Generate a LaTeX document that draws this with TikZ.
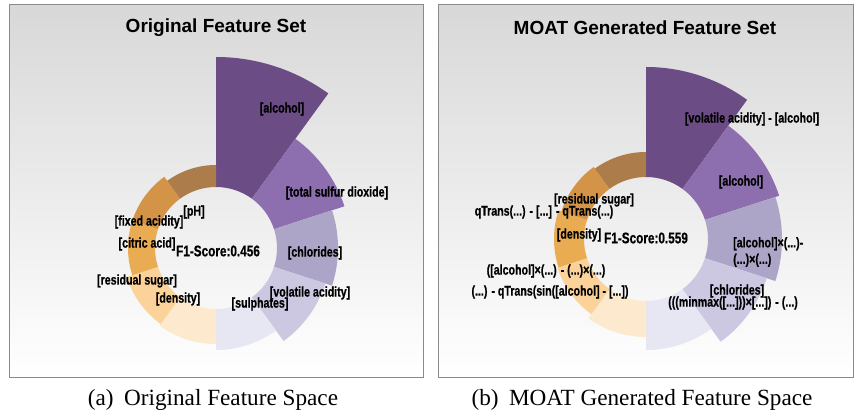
\documentclass[tikz,border=0pt]{standalone}
\usepackage{fontspec}
\setmainfont{Liberation Serif}
\newfontfamily\lblfont[FakeStretch=0.76,FakeBold=0.6]{Liberation Sans}
\newfontfamily\ttlfont{Liberation Sans}
\usetikzlibrary{positioning}

\definecolor{pA}{HTML}{6C4C84}
\definecolor{pB}{HTML}{8D6EAE}
\definecolor{pC}{HTML}{ACA5C8}
\definecolor{pD}{HTML}{CDC8E2}
\definecolor{pE}{HTML}{E6E7F2}
\definecolor{oA}{HTML}{FDEACE}
\definecolor{oB}{HTML}{FBD39A}
\definecolor{oC}{HTML}{EAAC52}
\definecolor{oD}{HTML}{D49448}
\definecolor{oE}{HTML}{AC7C4A}
\definecolor{bgtop}{HTML}{D8D8D8}
\definecolor{frm}{HTML}{8A8A8A}

\begin{document}
\begin{tikzpicture}[x=1pt,y=1pt,
  panel/.style={draw=frm,line width=1pt,top color=bgtop,bottom color=white,minimum height=373,inner sep=0pt},
  ttl/.style={font=\ttlfont\bfseries\fontsize{19}{22}\selectfont},
  lbl/.style={inner sep=0pt,font=\lblfont\bfseries\fontsize{14}{16.5}\selectfont},
  score/.style={inner sep=0pt,font=\lblfont\bfseries\fontsize{15.5}{17}\selectfont},
  capt/.style={font=\fontsize{23.2}{25}\selectfont}]

\useasboundingbox (0,0) rectangle (854,417);

\node (pnlA) [panel,minimum width=414] at (216,225.5) {};
\node (pnlB) [panel,minimum width=415] at (645.5,225.5) {};

\node (ttlA) [ttl] at (216,389) {Original Feature Set};
\node (ttlB) [ttl] at (645,389) {MOAT Generated Feature Set};

% original feature set
\begin{scope}[shift={(216,169)}]
\foreach \a/\r/\c [evaluate=\a as \b using \a-36] in {90/191/pA,54/135/pB,18/122/pC,-18/115/pD,-54/102/pE,-90/96/oA,-126/94/oB,-162/88/oC,-198/88/oD,-234/83/oE}
  \fill[\c] (\a:61) arc[start angle=\a,end angle=\b,radius=61] -- (\b:\r) arc[start angle=\b,end angle=\a,radius=\r] -- cycle;
\end{scope}

% generated feature set
\begin{scope}[shift={(646,178)}]
\foreach \a/\r/\c [evaluate=\a as \b using \a-36] in {90/172/pA,54/140/pB,18/136/pC,-18/127/pD,-54/111/pE,-90/98/oA,-126/93/oB,-162/92/oC,-198/89/oD,-234/87/oE}
  \fill[\c] (\a:62) arc[start angle=\a,end angle=\b,radius=62] -- (\b:\r) arc[start angle=\b,end angle=\a,radius=\r] -- cycle;
\end{scope}

\node (alcA) [lbl] at (282,308) {[alcohol]};
\node (tsd) [lbl] at (337,224) {[total sulfur dioxide]};
\node (chlA) [lbl] at (315,164) {[chlorides]};
\node (vol) [lbl] at (310,124) {[volatile acidity]};
\node (sul) [lbl] at (260,113) {[sulphates]};
\node (denA) [lbl] at (178,118) {[density]};
\node (resA) [lbl] at (137,136) {[residual sugar]};
\node (cit) [lbl] at (147,173) {[citric acid]};
\node (fix) [lbl] at (149,195) {[fixed acidity]};
\node (ph) [lbl] at (194,205) {[pH]};
\node (scA) [score] at (218,166) {F1-Score:0.456};

\node (genA) [lbl] at (752,298) {[volatile acidity] - [alcohol]};
\node (alcB) [lbl] at (741,235) {[alcohol]};
\node (genB) [lbl,anchor=west,align=left] at (733,165) {[alcohol]×(...)-\\(...)×(...)};
\node (chlB) [lbl] at (737,126) {[chlorides]};
\node (genC) [lbl] at (733,114) {(((minmax([...]))×[...]) - (...)};
\node (resB) [lbl] at (594,217) {[residual sugar]};
\node (genD) [lbl] at (544,205) {qTrans(...) - [...] - qTrans(...)};
\node (denB) [lbl] at (579,182) {[density]};
\node (genE) [lbl] at (546,146) {([alcohol]×(...) - (...)×(...)};
\node (genF) [lbl] at (550,125) {(...) - qTrans(sin([alcohol] - [...])};
\node (scB) [score] at (646,179) {F1-Score:0.559};

\node (capA) [capt] at (213,17) {(a)\hspace{0.45em}Original Feature Space};
\node (capB) [capt] at (642,17) {(b)\hspace{0.45em}MOAT Generated Feature Space};

\end{tikzpicture}
\end{document}
